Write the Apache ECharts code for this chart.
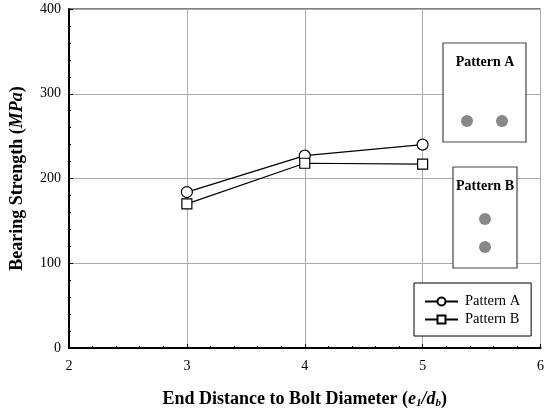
<!DOCTYPE html>
<html><head><meta charset="utf-8">
<script src="https://cdn.jsdelivr.net/npm/echarts@6/dist/echarts.min.js"></script>
<style>html,body{margin:0;padding:0;background:#fff}#c{width:547px;height:414px}</style>
</head><body><div id="c"></div>
<script>
var ratios = [3, 4, 5];
var patternA = [184, 227, 240];
var patternB = [170, 218, 217];
var seriesNames = ['Pattern A', 'Pattern B'];
var xTicks = [2, 3, 4, 5, 6];
var yTicks = [0, 100, 200, 300, 400];

var FONT = '"Liberation Serif", "Times New Roman", serif';
var chart = echarts.init(document.getElementById('c'));
function pairs(xs, ys){ return xs.map(function(x,i){ return [x, ys[i]]; }); }

chart.setOption({
  animation: false,
  backgroundColor: '#fff',
  textStyle: { fontFamily: FONT },
  grid: { left: 69, right: 6, top: 9, bottom: 63, show: true, borderColor: '#000', borderWidth: 1 },
  xAxis: {
    type: 'value', min: xTicks[0], max: xTicks[xTicks.length-1], interval: 1,
    axisLine: { lineStyle: { color: '#000', width: 2 } },
    axisTick: { inside: true, length: 4, lineStyle: { color: '#000' } },
    minorTick: { show: true, splitNumber: 5, length: 2, lineStyle: { color: '#000' } },
    splitLine: { show: true, lineStyle: { color: '#aaa', width: 1 } },
    axisLabel: { color: '#000', fontFamily: FONT, fontSize: 14, margin: 11 },
    name: '{b|End Distance to Bolt Diameter (}{i|e}{s|1}{i|/d}{s|b}{b|)}',
    nameLocation: 'middle', nameGap: 41,
    nameTextStyle: {
      rich: {
        b: { fontFamily: FONT, fontWeight: 'bold', fontSize: 18, color: '#000', lineHeight: 20 },
        i: { fontFamily: FONT, fontWeight: 'bold', fontStyle: 'italic', fontSize: 18, color: '#000', lineHeight: 20 },
        s: { fontFamily: FONT, fontWeight: 'bold', fontStyle: 'italic', fontSize: 11, color: '#000', lineHeight: 20, verticalAlign: 'bottom', padding: [10,0,0,0] }
      }
    }
  },
  yAxis: {
    type: 'value', min: yTicks[0], max: yTicks[yTicks.length-1], interval: 100,
    axisLine: { show: true, lineStyle: { color: '#000', width: 2 } },
    axisTick: { show: true, inside: true, length: 4, lineStyle: { color: '#000' } },
    minorTick: { show: true, splitNumber: 5, length: 2, lineStyle: { color: '#000' } },
    splitLine: { show: true, lineStyle: { color: '#aaa', width: 1 } },
    axisLabel: { color: '#000', fontFamily: FONT, fontSize: 14, margin: 8 },
    name: '{b|Bearing Strength (}{i|MPa}{b|)}',
    nameLocation: 'middle', nameGap: 43, nameRotate: 90,
    nameTextStyle: {
      rich: {
        b: { fontFamily: FONT, fontWeight: 'bold', fontSize: 18, color: '#000' },
        i: { fontFamily: FONT, fontWeight: 'bold', fontStyle: 'italic', fontSize: 18, color: '#000' }
      }
    }
  },
  legend: {
    orient: 'vertical', left: 414, top: 283,
    padding: [11, 11, 9, 10], itemGap: 3,
    itemWidth: 33, itemHeight: 10,
    backgroundColor: '#fff', borderColor: '#000', borderWidth: 1,
    textStyle: { fontFamily: FONT, fontSize: 14.5, color: '#000', padding: [0, 0, 0, 2] },
    data: seriesNames
  },
  series: [
    { name: seriesNames[0], type: 'line', data: pairs(ratios, patternA),
      symbol: 'circle', symbolSize: 11, showAllSymbol: true,
      lineStyle: { color: '#000', width: 1.2 },
      itemStyle: { color: '#fff', borderColor: '#000', borderWidth: 1.2 } },
    { name: seriesNames[1], type: 'line', data: pairs(ratios, patternB),
      symbol: 'rect', symbolSize: 10, showAllSymbol: true,
      lineStyle: { color: '#000', width: 1.2 },
      itemStyle: { color: '#fff', borderColor: '#000', borderWidth: 1.2 } }
  ],
  graphic: [
    { type: 'rect', shape: { x: 443, y: 43, width: 83, height: 99 },
      style: { fill: '#fff', stroke: '#444', lineWidth: 1.2 }, z: 100 },
    { type: 'text', x: 485, y: 62, z: 101,
      style: { text: 'Pattern A', font: 'bold 14px "Liberation Serif", serif', fill: '#000', align: 'center', verticalAlign: 'middle' } },
    { type: 'circle', shape: { cx: 467, cy: 121, r: 6 }, style: { fill: '#888' }, z: 101 },
    { type: 'circle', shape: { cx: 502, cy: 121, r: 6 }, style: { fill: '#888' }, z: 101 },
    { type: 'rect', shape: { x: 453, y: 167, width: 64, height: 101 },
      style: { fill: '#fff', stroke: '#444', lineWidth: 1.2 }, z: 100 },
    { type: 'text', x: 485, y: 186, z: 101,
      style: { text: 'Pattern B', font: 'bold 14px "Liberation Serif", serif', fill: '#000', align: 'center', verticalAlign: 'middle' } },
    { type: 'circle', shape: { cx: 485, cy: 219, r: 6 }, style: { fill: '#888' }, z: 101 },
    { type: 'circle', shape: { cx: 485, cy: 247, r: 6 }, style: { fill: '#888' }, z: 101 }
  ]
});
</script></body></html>
